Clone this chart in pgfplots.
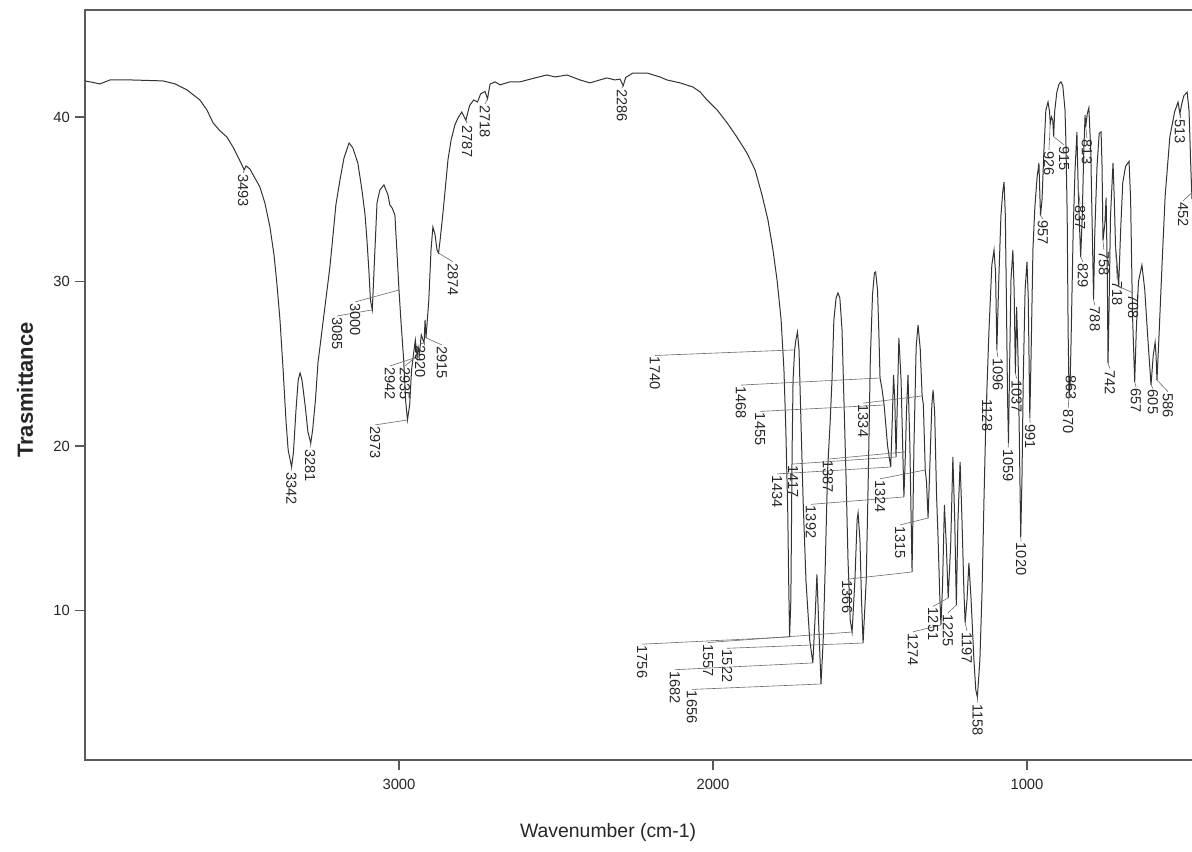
\documentclass[border=0pt]{standalone}
\usepackage{fontspec}
\setmainfont{Liberation Sans}
\usepackage{pgfplots}
\pgfplotsset{compat=1.18}
\definecolor{curve}{HTML}{333333}
\definecolor{framec}{HTML}{5A5A5A}
\definecolor{leadc}{HTML}{6A6A6A}
\definecolor{txt}{HTML}{262626}
\tikzset{pklab/.style={rotate=-90, anchor=west, inner sep=0.6pt, text=txt, font=\fontsize{7.3}{8}\selectfont}}
\newcommand{\pk}[5]{\draw[leadc, line width=0.3pt] (axis cs:#3,#4) -- (axis cs:#1,#2) node[pklab] {#5};}
\begin{document}
\begin{tikzpicture}
\useasboundingbox (-42.5pt,-45.5pt) rectangle (553.5pt,380pt);
\begin{axis}[
  scale only axis, width=553.5pt, height=375pt,
  at={(0,0)}, anchor=south west,
  x dir=reverse, xmin=474.5, xmax=4000, ymin=0.91, ymax=46.5,
  enlargelimits=false, clip=false,
  axis line style={draw=none},
  xtick={1000,2000,3000}, ytick={10,20,30,40},
  tick align=outside, xtick pos=bottom, ytick pos=left,
  major tick length=5pt,
  every tick/.style={framec, line width=0.6pt},
  ticklabel style={text=txt, font=\fontsize{7.4}{8}\selectfont},
  /pgf/number format/assume math mode=true,
  /pgf/number format/1000 sep={},
  xticklabel style={yshift=-1pt},
  yticklabel style={xshift=1pt},
]
\draw[framec, line width=0.7pt] (axis cs:474.5,46.5) -- (axis cs:4000,46.5) -- (axis cs:4000,0.91) -- (axis cs:474.5,0.91);
\addplot[curve, line width=0.5pt, mark=none] coordinates {
(4000,42.19) (3968,42.07) (3952,42.01) (3920,42.25) (3857,42.25) (3752,42.19) (3713,42.01) (3675,41.64)
(3634,41.03) (3612,40.43) (3592,39.64) (3570,39.15) (3548,38.78) (3529,38.18) (3513,37.57) (3503,37.20)
(3493,36.78) (3487,37.02) (3475,36.84) (3459,36.29) (3443,35.74) (3427,34.77) (3411,33.31) (3398,31.61)
(3389,29.91) (3379,27.66) (3369,24.62) (3360,21.58) (3353,19.76) (3342,18.72) (3336,19.64) (3328,22.19)
(3321,24.01) (3315,24.44) (3309,24.01) (3299,22.49) (3290,20.85) (3281,20.18) (3275,20.97) (3266,22.80)
(3258,25.05) (3245,27.05) (3233,28.88) (3220,30.88) (3210,32.83) (3201,34.65) (3188,36.17) (3175,37.51)
(3159,38.42) (3147,38.12) (3131,37.20) (3118,35.56) (3108,34.04) (3102,32.52) (3096,30.70) (3091,28.88)
(3085,28.27) (3078,31.31) (3070,34.77) (3061,35.56) (3048,35.87) (3035,35.26) (3029,34.65) (3022,34.47)
(3013,34.04) (3006,31.61) (3000,29.48) (2994,27.66) (2985,25.23) (2979,22.80) (2973,21.58) (2966,22.49)
(2960,24.62) (2954,25.53) (2948,26.44) (2942,25.41) (2939,26.00) (2935,25.60) (2929,26.75) (2920,26.26)
(2917,27.66) (2914,26.57) (2905,28.88) (2898,31.91) (2892,33.31) (2885,32.83) (2879,31.91) (2874,31.73)
(2869,32.52) (2860,34.16) (2850,36.17) (2844,37.39) (2834,38.60) (2822,39.51) (2812,39.94) (2800,40.30)
(2787,39.80) (2775,40.70) (2762,41.03) (2750,40.91) (2740,41.40) (2726,41.55) (2718,41.10) (2710,42.00)
(2694,42.13) (2678,41.95) (2647,42.13) (2615,42.13) (2567,42.37) (2529,42.55) (2503,42.43) (2465,42.55)
(2424,42.25) (2392,42.07) (2360,42.25) (2338,42.37) (2312,42.25) (2296,42.30) (2286,41.90) (2278,42.40)
(2255,42.67) (2210,42.67) (2169,42.43) (2147,42.25) (2105,42.07) (2064,41.82) (2041,41.52) (2019,41.03)
(1987,40.43) (1955,39.64) (1924,38.78) (1892,37.81) (1866,36.78) (1844,35.26) (1825,33.74) (1809,31.91)
(1796,30.09) (1783,27.66) (1774,24.62) (1768,20.97) (1762,16.11) (1759,11.85) (1756,8.39) (1752,10.64)
(1748,19.76) (1745,24.01) (1740,25.84) (1736,26.44) (1731,26.93) (1726,25.84) (1720,21.58) (1713,16.72)
(1704,11.85) (1692,8.21) (1682,6.81) (1675,9.50) (1669,12.20) (1663,9.00) (1656,5.53) (1649,8.21)
(1642,13.07) (1635,18.54) (1627,21.40) (1621,24.01) (1615,27.66) (1608,29.00) (1602,29.30) (1596,29.00)
(1589,27.05) (1583,22.80) (1576,17.93) (1570,13.07) (1563,9.42) (1557,8.69) (1548,11.85) (1541,15.50)
(1538,15.93) (1532,14.29) (1527,10.64) (1522,8.02) (1512,11.85) (1505,18.54) (1499,25.23) (1492,29.18)
(1486,30.52) (1482,30.58) (1476,29.48) (1472,27.05) (1468,24.13) (1462,23.50) (1455,22.49) (1444,20.00)
(1434,18.72) (1429,21.58) (1425,24.32) (1421,22.80) (1417,19.33) (1412,23.40) (1408,26.57) (1401,24.00)
(1392,16.90) (1387,19.64) (1384,22.00) (1379,24.32) (1373,20.00) (1366,12.34) (1360,20.00) (1353,26.00)
(1347,27.36) (1340,25.90) (1334,23.04) (1330,22.50) (1324,18.54) (1320,17.80) (1315,15.62) (1309,19.00)
(1303,22.50) (1299,23.40) (1294,22.00) (1288,17.00) (1283,14.29) (1278,11.00) (1274,9.12) (1269,11.50)
(1263,16.41) (1257,14.00) (1251,10.76) (1243,14.00) (1236,19.33) (1230,15.40) (1225,10.33) (1220,15.40)
(1213,19.03) (1207,15.50) (1201,11.25) (1197,9.24) (1191,10.64) (1185,12.89) (1178,10.64) (1169,6.99)
(1163,5.16) (1158,4.74) (1150,6.99) (1143,11.25) (1137,16.72) (1131,21.58) (1128,23.22) (1121,27.05)
(1112,31.00) (1105,31.91) (1100,30.50) (1096,25.84) (1090,30.00) (1083,34.00) (1077,35.50) (1073,36.05)
(1069,34.00) (1065,28.00) (1062,23.00) (1059,20.18) (1056,24.00) (1051,30.09) (1045,31.91) (1041,29.50)
(1037,24.44) (1033,28.45) (1028,25.00) (1024,20.00) (1020,14.47) (1016,18.00) (1012,24.00) (1006,29.50)
(1000,31.19) (996,29.00) (991,21.70) (987,25.50) (981,32.00) (975,34.50) (968,36.30) (962,37.20)
(957,34.00) (952,35.00) (946,38.00) (940,40.40) (933,40.91) (928,40.30) (926,39.60) (922,40.00)
(918,39.80) (915,38.80) (912,40.30) (905,41.50) (898,42.00) (892,42.13) (886,41.90) (879,40.43)
(876,38.50) (872,34.00) (869,27.00) (866,23.00) (863,23.60) (860,26.00) (853,33.00) (847,36.78)
(841,39.09) (837,35.70) (833,33.50) (829,31.49) (824,34.00) (819,38.00) (815,40.12) (813,39.39)
(808,40.20) (803,40.55) (797,38.00) (792,33.00) (788,28.90) (784,33.00) (777,37.00) (770,39.00)
(764,39.09) (761,37.00) (758,32.50) (752,33.50) (748,35.10) (744,30.00) (742,25.00) (739,28.00)
(734,34.00) (726,37.20) (722,35.00) (718,32.10) (713,31.00) (708,29.70) (702,33.00) (695,36.00)
(686,37.00) (675,37.30) (670,35.00) (664,28.00) (657,23.90) (652,27.00) (645,30.00) (634,31.00)
(625,29.50) (615,26.50) (605,23.70) (598,25.50) (592,26.30) (589,25.50) (586,24.00) (580,26.50)
(570,31.00) (560,35.20) (545,38.80) (530,40.30) (519,40.90) (513,40.20) (507,40.80) (500,41.30)
(490,41.50) (484,40.40) (478,36.80) (474.5,35.00)
};
% peak labels
\pk{3496}{36.6}{3493}{36.78}{3493}
\pk{3343}{18.5}{3342}{18.72}{3342}
\pk{3283}{19.9}{3281}{20.18}{3281}
\pk{3197}{27.9}{3085}{28.27}{3085}
\pk{3140}{28.75}{3000}{29.48}{3000}
\pk{3076}{21.28}{2973}{21.58}{2973}
\pk{3029}{24.86}{2942}{25.41}{2942}
\pk{2981}{24.86}{2935}{25.6}{2935}
\pk{2933}{26.2}{2920}{26.26}{2920}
\pk{2863}{26.14}{2914}{26.57}{2915}
\pk{2828}{31.19}{2874}{31.73}{2874}
\pk{2783}{39.6}{2787}{39.8}{2787}
\pk{2726}{40.79}{2718}{41.10}{2718}
\pk{2290}{41.76}{2286}{41.9}{2286}
\pk{2185}{25.5}{1740}{25.84}{1740}
\pk{1911}{23.7}{1468}{24.13}{1468}
\pk{1850}{22.1}{1455}{22.49}{1455}
\pk{1522}{22.6}{1334}{23.04}{1334}
\pk{1745}{18.9}{1417}{19.33}{1417}
\pk{1796}{18.3}{1434}{18.72}{1434}
\pk{1634}{19.2}{1387}{19.64}{1387}
\pk{1688}{16.45}{1392}{16.9}{1392}
\pk{1468}{18.0}{1324}{18.54}{1324}
\pk{1404}{15.2}{1315}{15.62}{1315}
\pk{1573}{11.9}{1366}{12.34}{1366}
\pk{1363}{8.7}{1274}{9.12}{1274}
\pk{1299}{10.25}{1251}{10.76}{1251}
\pk{1252}{9.85}{1225}{10.33}{1225}
\pk{1191}{8.75}{1197}{9.24}{1197}
\pk{1157}{4.4}{1158}{4.74}{1158}
\pk{2226}{7.95}{1756}{8.39}{1756}
\pk{2016}{8.05}{1557}{8.69}{1557}
\pk{1955}{7.7}{1522}{8.02}{1522}
\pk{2121}{6.4}{1682}{6.81}{1682}
\pk{2067}{5.2}{1656}{5.53}{1656}
\pk{1127}{22.9}{1128}{23.22}{1128}
\pk{1093}{25.4}{1096}{25.84}{1096}
\pk{1060}{19.9}{1059}{20.18}{1059}
\pk{1033}{24.1}{1037}{24.44}{1037}
\pk{1019}{14.2}{1020}{14.47}{1020}
\pk{990}{21.4}{991}{21.70}{991}
\pk{949}{33.8}{957}{34.0}{957}
\pk{930}{38.0}{926}{39.6}{926}
\pk{882}{38.3}{915}{38.8}{915}
\pk{809}{38.7}{813}{39.39}{813}
\pk{831}{34.7}{837}{35.7}{837}
\pk{822}{31.2}{829}{31.49}{829}
\pk{860}{24.4}{863}{23.6}{863}
\pk{869}{22.3}{866}{23.0}{870}
\pk{784}{28.55}{788}{28.9}{788}
\pk{755}{31.9}{758}{32.5}{758}
\pk{713}{30.1}{718}{32.1}{718}
\pk{662}{29.3}{708}{29.7}{708}
\pk{736}{24.7}{742}{25.0}{742}
\pk{653}{23.6}{657}{23.9}{657}
\pk{599}{23.5}{605}{23.7}{605}
\pk{551}{23.3}{586}{24.0}{586}
\pk{513}{39.95}{513}{40.2}{513}
\pk{503}{34.9}{474.5}{35.4}{452}
% axis titles
\node[text=txt, font=\fontsize{9.7}{11}\selectfont] at (axis cs:2334,-3.47) {Wavenumber (cm-1)};
\node[text=txt, rotate=90, font=\bfseries\fontsize{11}{12}\selectfont] at (axis cs:4191,23.4) {Trasmittance};
\end{axis}
\end{tikzpicture}
\end{document}
